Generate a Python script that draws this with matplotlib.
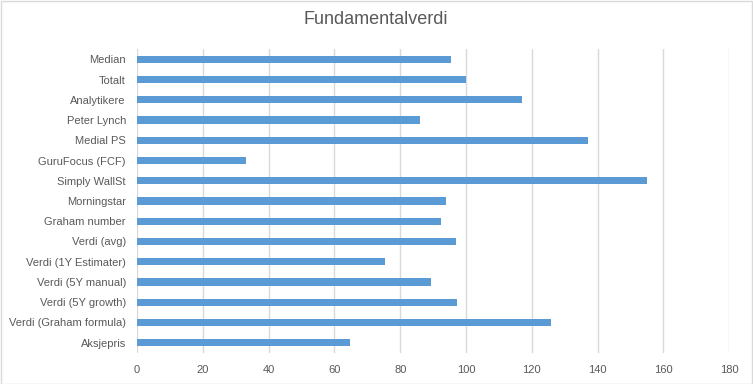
import matplotlib
matplotlib.use("Agg")
import matplotlib.pyplot as plt
from matplotlib.patches import Rectangle

categories = ["Median", "Totalt", "Analytikere", "Peter Lynch", "Medial PS",
              "GuruFocus (FCF)", "Simply WallSt", "Morningstar", "Graham number",
              "Verdi (avg)", "Verdi (1Y Estimater)", "Verdi (5Y manual)",
              "Verdi (5Y growth)", "Verdi (Graham formula)", "Aksjepris"]
values = [95.5, 100.0, 117.0, 86.0, 137.1, 33.1, 155.0, 94.0, 92.5,
          97.0, 75.4, 89.4, 97.3, 125.9, 64.8]
xticks = [0, 20, 40, 60, 80, 100, 120, 140, 160, 180]
title = "Fundamentalverdi"

plt.rcParams['font.family'] = ['Liberation Sans', 'DejaVu Sans']
W, H = 753, 384
fig = plt.figure(figsize=(W / 100, H / 100), dpi=100)
ax = fig.add_axes([137 / W, 1 - 352.8 / H, (729.3 - 137) / W, (352.8 - 49.2) / H])

ypos = list(range(len(categories)))
ax.barh(ypos, values, height=0.35, color="#5B9BD5", zorder=3)
ax.set_ylim(len(categories) - 0.5, -0.5)
ax.set_yticks(ypos)
ax.set_yticklabels(categories)
ax.set_xlim(0, 180)
ax.set_xticks(xticks)
ax.set_xticklabels([str(t) for t in xticks])
ax.grid(axis="x", color="#D9D9D9", linewidth=1.0, zorder=0)
for s in ax.spines.values():
    s.set_visible(False)
ax.tick_params(axis="both", length=0, colors="#595959", labelsize=8)
ax.tick_params(axis="y", pad=8)
ax.tick_params(axis="x", pad=9)

fig.text(376 / W, 1 - 20 / H, title, ha="center", va="center", fontsize=13, color="#595959")
fig.patches.append(Rectangle((0.5 / W, 0.5 / H), 1 - 1.5 / W, 1 - 1.5 / H, transform=fig.transFigure,
                             fill=False, edgecolor="#D9D9D9", linewidth=1.0))
fig.savefig("out.png", dpi=100, facecolor="white")
